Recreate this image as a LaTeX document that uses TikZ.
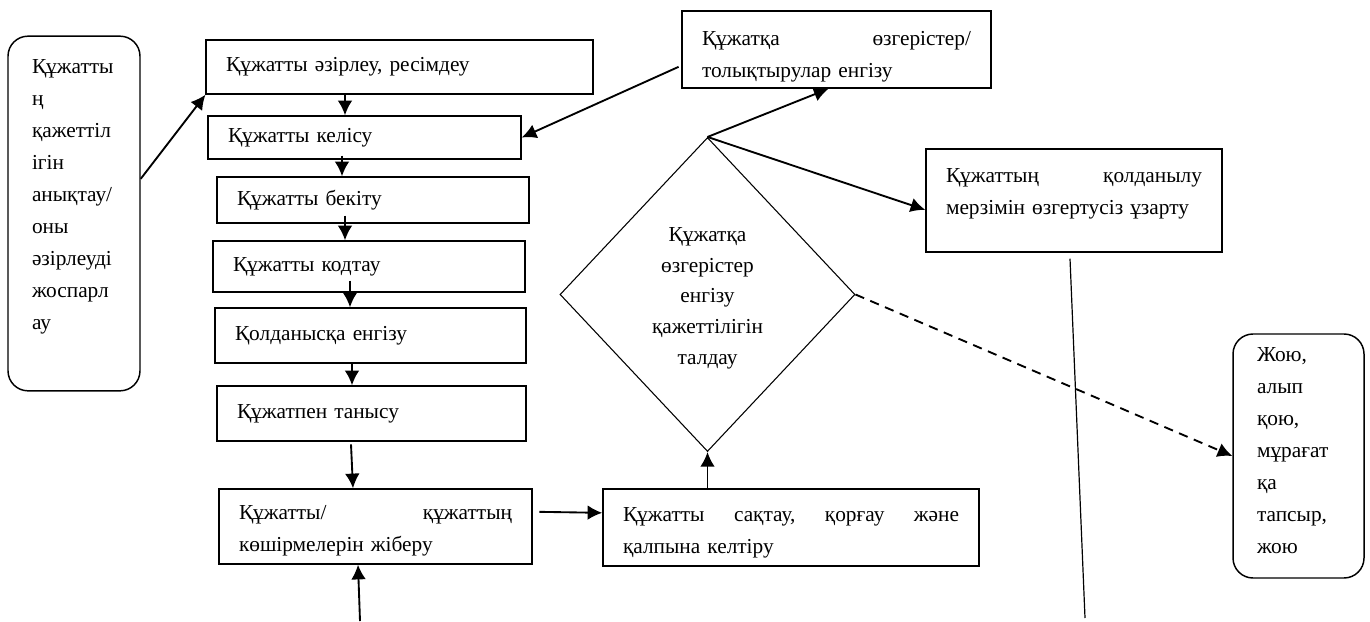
\documentclass[tikz,border=0pt]{standalone}
\usepackage{fontspec}
\setmainfont{Liberation Serif}
\usetikzlibrary{positioning}
\usetikzlibrary{arrows.meta}
\usetikzlibrary{shapes.geometric}
\tikzset{>={Latex[width=11pt,length=11pt]}}
\tikzset{
	blk/.style={draw, line width=1.1pt, align=left, inner xsep=15pt, inner ysep=0pt, font=\fontsize{16}{24}\selectfont},
	rblk/.style={blk, rounded corners=15pt, inner xsep=18pt},
	flow/.style={draw, line width=1.4pt, ->},
}

\begin{document}
\begin{tikzpicture}[x=0.75pt, y=-0.75pt]
	\useasboundingbox (0,0) rectangle (1370,621);
	\node (NEED) [rblk, text width=63pt, minimum height=266pt] at (74,213.5) {Құжатты\\ң\\қажеттіл\\ігін\\анықтау/\\оны\\әзірлеуді\\жоспарл\\ау\rule[-29pt]{0pt}{29pt}};
	\node (DRAFT) [blk, text width=260pt, minimum height=40.5pt] at (399.5,67) {Құжатты әзірлеу, ресімдеу};
	\node (AGREE) [blk, text width=204.75pt, minimum height=32.25pt] at (364.5,137.5) {Құжатты келісу};
	\node (APPROVE) [blk, text width=204pt, minimum height=34.5pt] at (373,200) {Құжатты бекіту};
	\node (CODE) [blk, text width=204pt, minimum height=38.25pt] at (369,266.5) {Құжатты кодтау};
	\node (INTRO) [blk, text width=203.25pt, minimum height=41.25pt] at (370.5,335.5) {Қолданысқа енгізу};
	\node (READ) [blk, text width=201.75pt, minimum height=41.25pt] at (371.5,413.5) {Құжатпен танысу};
	\node (SEND) [blk, text width=204.75pt, minimum height=56.25pt] at (375.5,526.5) {\rule{0pt}{17pt}Құжатты/\hfill құжаттың\\көшірмелерін жіберу};
	\node (STORE) [blk, text width=252pt, minimum height=57.75pt] at (791,527.5) {\rule{0pt}{18pt}Құжатты\hfill сақтау,\hfill қорғау\hfill және\\қалпына келтіру};
	\node (CHANGE) [blk, text width=201.75pt, minimum height=57.75pt] at (836.5,49.5) {\rule{0pt}{21pt}Құжатқа\hfill өзгерістер/\\толықтырулар енгізу};
	\node (CHECK) [diamond, draw, line width=0.8pt, inner sep=0pt, minimum width=221.25pt, minimum height=235.5pt, text width=100pt, align=center, font=\fontsize{16}{23}\selectfont] at (707.5,294.5) {\rule{0pt}{16pt}Құжатқа\\өзгерістер\\енгізу\\қажеттілігін\\талдау};
	\node (EXTEND) [blk, text width=192pt, minimum height=77.25pt] at (1074,200.5) {Құжаттың\hfill қолданылу\\мерзімін өзгертусіз ұзарту\rule[-14pt]{0pt}{14pt}};
	\node (DISPOSE) [rblk, text width=62.25pt, minimum height=183pt] at (1298.5,456) {Жою,\\алып\\қою,\\мұрағат\\қа\\тапсыр,\\жою\rule[-8pt]{0pt}{8pt}};
	\coordinate (FEED) at (360,621);
	\coordinate (TAIL) at (1085,618);

	\path [flow] ([yshift=26pt]NEED.east) -- (DRAFT.south west);
	\path [flow] (DRAFT.south -| 345,0) -- (AGREE.north -| 345,0);
	\path [flow] ([yshift=3pt]AGREE.south -| 342,0) -- (APPROVE.north -| 342,0);
	\path [flow] ([yshift=6pt]APPROVE.south -| 345,0) -- (CODE.north -| 345,0);
	\path [flow] ([yshift=9pt]CODE.south -| 350,0) -- (INTRO.north -| 350,0);
	\path [flow] (INTRO.south -| 352,0) -- (READ.north -| 352,0);
	\path [flow] ([yshift=-2pt]READ.south -| 351,0) -- (SEND.north -| 353,0);
	\path [flow] (FEED) -- (SEND.south -| 358,0);
	\path [flow] ([shift={(5pt,11pt)}]SEND.east) -- ([yshift=11pt]STORE.west);
	\path [flow] (STORE.north -| CHECK.south) -- (CHECK.south);
	\path [flow] (CHECK.north) -- ([xshift=-6pt]CHANGE.south);
	\path [flow] (CHECK.north) -- ([yshift=-7pt]EXTEND.west);
	\path [flow] ([shift={(-2pt,-13pt)}]CHANGE.west) -- (AGREE.east);
	\path [flow, dash pattern=on 7pt off 5pt] (CHECK.east) -- (DISPOSE.west);
	\path [draw, line width=0.9pt] ([shift={(-3pt,-4.5pt)}]EXTEND.south) -- (TAIL);
\end{tikzpicture}
\end{document}
